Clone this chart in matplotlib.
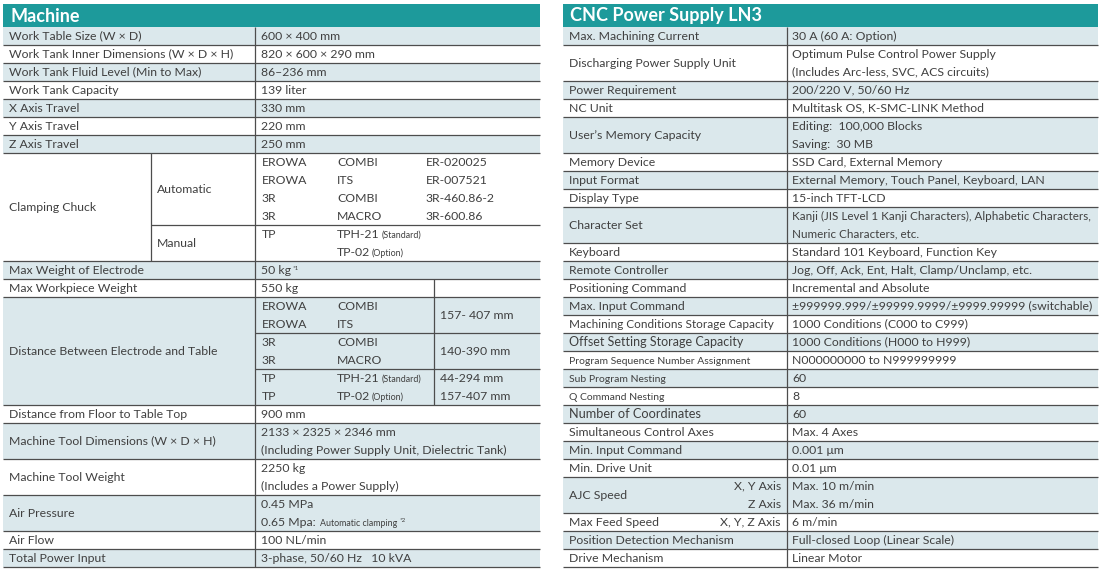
import matplotlib
matplotlib.use("Agg")
import matplotlib.pyplot as plt
from matplotlib.patches import Rectangle

# ---------------- data ----------------
machine_title = "Machine"
machine_labels = [
    "Work Table Size (W × D)",
    "Work Tank Inner Dimensions (W × D × H)",
    "Work Tank Fluid Level (Min to Max)",
    "Work Tank Capacity",
    "X Axis Travel",
    "Y Axis Travel",
    "Z Axis Travel",
    "Clamping Chuck",
    "Max Weight of Electrode",
    "Max Workpiece Weight",
    "Distance Between Electrode and Table",
    "Distance from Floor to Table Top",
    "Machine Tool Dimensions (W × D × H)",
    "Machine Tool Weight",
    "Air Pressure",
    "Air Flow",
    "Total Power Input",
]
machine_values = [
    "600 × 400 mm",
    "820 × 600 × 290 mm",
    "86–236 mm",
    "139 liter",
    "330 mm",
    "220 mm",
    "250 mm",
    None,
    "50 kg",
    "550 kg",
    None,
    "900 mm",
    "2133 × 2325 × 2346 mm\n(Including Power Supply Unit, Dielectric Tank)",
    "2250 kg\n(Includes a Power Supply)",
    "0.45 MPa\n0.65 Mpa: |Automatic clamping",
    "100 NL/min",
    "3-phase, 50/60 Hz   10 kVA",
]
machine_footnotes = {"Max Weight of Electrode": "*1", "Air Pressure": "*2"}

chuck_types = ["Automatic", "Manual"]
chuck_auto_maker = ["EROWA", "EROWA", "3R", "3R"]
chuck_auto_model = ["COMBI", "ITS", "COMBI", "MACRO"]
chuck_auto_part = ["ER-020025", "ER-007521", "3R-460.86-2", "3R-600.86"]
chuck_manual_maker = ["TP", ""]
chuck_manual_model = ["TPH-21", "TP-02"]
chuck_manual_note = ["(Standard)", "(Option)"]

dist_maker = ["EROWA", "EROWA", "3R", "3R", "TP", "TP"]
dist_model = ["COMBI", "ITS", "COMBI", "MACRO", "TPH-21", "TP-02"]
dist_note = ["", "", "", "", "(Standard)", "(Option)"]
dist_group = [0, 0, 1, 1, 2, 3]
dist_range = ["157- 407 mm", "140-390 mm", "44-294 mm", "157-407 mm"]

cnc_title = "CNC Power Supply LN3"
cnc_labels = [
    "Max. Machining Current",
    "Discharging Power Supply Unit",
    "Power Requirement",
    "NC Unit",
    "User’s Memory Capacity",
    "Memory Device",
    "Input Format",
    "Display Type",
    "Character Set",
    "Keyboard",
    "Remote Controller",
    "Positioning Command",
    "Max. Input Command",
    "Machining Conditions Storage Capacity",
    "Offset Setting Storage Capacity",
    "Program Sequence Number Assignment",
    "Sub Program Nesting",
    "Q Command Nesting",
    "Number of Coordinates",
    "Simultaneous Control Axes",
    "Min. Input Command",
    "Min. Drive Unit",
    "AJC Speed",
    "Max Feed Speed",
    "Position Detection Mechanism",
    "Drive Mechanism",
]
cnc_values = [
    "30 A (60 A: Option)",
    "Optimum Pulse Control Power Supply\n(Includes Arc-less, SVC, ACS circuits)",
    "200/220 V, 50/60 Hz",
    "Multitask OS, K-SMC-LINK Method",
    "Editing:  100,000 Blocks\nSaving:  30 MB",
    "SSD Card, External Memory",
    "External Memory, Touch Panel, Keyboard, LAN",
    "15-inch TFT-LCD",
    "Kanji (JIS Level 1 Kanji Characters), Alphabetic Characters,\nNumeric Characters, etc.",
    "Standard 101 Keyboard, Function Key",
    "Jog, Off, Ack, Ent, Halt, Clamp/Unclamp, etc.",
    "Incremental and Absolute",
    "±999999.999/±99999.9999/±9999.99999 (switchable)",
    "1000 Conditions (C000 to C999)",
    "1000 Conditions (H000 to H999)",
    "N000000000 to N999999999",
    "60",
    "8",
    "60",
    "Max. 4 Axes",
    "0.001 μm",
    "0.01 μm",
    "Max. 10 m/min\nMax. 36 m/min",
    "6 m/min",
    "Full-closed Loop (Linear Scale)",
    "Linear Motor",
]
cnc_axis_notes = {"AJC Speed": ["X, Y Axis", "Z Axis"], "Max Feed Speed": ["X, Y, Z Axis"]}

# ---------------- style ----------------
TEAL = "#1d9a9b"
SHADE = "#dbe8ec"
TXT = "#404040"
LINE = "#4d4d4d"
FS = 8.8
SMALL = 6.4
UNIT = 18.0
TOP = 27.0
plt.rcParams["font.family"] = ["Lato", "DejaVu Sans"]

label_sizes = {
    "Machining Conditions Storage Capacity": 8.5,
    "Program Sequence Number Assignment": 7.5,
    "Sub Program Nesting": 7.5,
    "Q Command Nesting": 7.5,
    "Number of Coordinates": 9.2,
    "Offset Setting Storage Capacity": 9.0,
}
value_sizes = {
    "Character Set": 8.4,
}

fig = plt.figure(figsize=(11, 5.7), dpi=100)
ax = fig.add_axes([0, 0, 1, 1])
ax.set_xlim(0, 1100)
ax.set_ylim(570, 0)
ax.axis("off")
renderer = fig.canvas.get_renderer()

BASE_OFF = 0.36 * FS * 100 / 72 * 0.72 + 0.6


def txt(x, yc, s, size=FS, ha="left", color=TXT, weight="normal"):
    return ax.text(x, yc + BASE_OFF, s, fontsize=size, ha=ha,
                   va="baseline", color=color, fontweight=weight)


def runs(x, yc, parts):
    for s, size, rise in parts:
        t = ax.text(x, yc + BASE_OFF - rise, s, fontsize=size,
                    ha="left", va="baseline", color=TXT)
        x += t.get_window_extent(renderer).width + 1.5
    return x


def hline(x0, x1, y, lw=0.9):
    ax.plot([x0, x1], [y, y], color=LINE, lw=lw, solid_capstyle="butt")


def vline(x, y0, y1, lw=0.9):
    ax.plot([x, x], [y0, y1], color=LINE, lw=lw, solid_capstyle="butt")


def header(x0, x1, title):
    ax.add_patch(Rectangle((x0, 4), x1 - x0, TOP - 4, color=TEAL, lw=0))
    ax.text(x0 + 7, 16, title, fontsize=13, fontweight="bold", color="white",
            ha="left", va="center")


# ---------------- left table ----------------
LX0, LX1, LDIV = 3, 540, 255
header(LX0, LX1, machine_title)
y = TOP
for i, (lab, val) in enumerate(zip(machine_labels, machine_values)):
    if val is None:
        n = 6
    else:
        n = len(val.split("\n"))
    h = n * UNIT
    if i % 2 == 0:
        ax.add_patch(Rectangle((LX0, y), LX1 - LX0, h, color=SHADE, lw=0))
    txt(LX0 + 6, y + h / 2, lab)
    if lab == "Clamping Chuck":
        vline(151, y, y + h)
        txt(157, y + 2 * UNIT, chuck_types[0])
        for k in range(4):
            yc = y + UNIT * (k + 0.5)
            txt(262, yc, chuck_auto_maker[k])
            txt(337, yc, chuck_auto_model[k])
            txt(426, yc, chuck_auto_part[k])
        hline(151, LX1, y + 4 * UNIT)
        txt(157, y + 5 * UNIT, chuck_types[1])
        for k in range(2):
            yc = y + UNIT * (4 + k + 0.5)
            txt(262, yc, chuck_manual_maker[k])
            runs(337, yc, [(chuck_manual_model[k], FS, 0), (chuck_manual_note[k], SMALL, 0)])
    elif lab == "Distance Between Electrode and Table":
        vline(434, y - UNIT, y + h)
        for k in range(6):
            yc = y + UNIT * (k + 0.5)
            txt(262, yc, dist_maker[k])
            parts = [(dist_model[k], FS, 0)]
            if dist_note[k]:
                parts.append((dist_note[k], SMALL, 0))
            runs(337, yc, parts)
            if k > 0 and dist_maker[k] != dist_maker[k - 1]:
                hline(LDIV, LX1, y + UNIT * k)
        for g, s in enumerate(dist_range):
            rows = [k for k in range(6) if dist_group[k] == g]
            yc = y + UNIT * (sum(rows) / len(rows) + 0.5)
            txt(440, yc, s)
    else:
        for k, line in enumerate(val.split("\n")):
            yc = y + UNIT * (k + 0.5)
            if "|" in line:
                a, b = line.split("|")
                parts = [(a, FS, 0), (b, SMALL, 0)]
            else:
                parts = [(line, FS, 0)]
            if lab in machine_footnotes and k == n - 1:
                parts.append((machine_footnotes[lab], 4.5, 4))
            runs(261, yc, parts)
    y += h
    hline(LX0, LX1, y)
vline(LDIV, TOP, y)

# ---------------- right table ----------------
RX0, RX1, RDIV = 563, 1098, 787
header(RX0, RX1, cnc_title)
y = TOP
for i, (lab, val) in enumerate(zip(cnc_labels, cnc_values)):
    lines = val.split("\n")
    n = len(lines)
    h = n * UNIT
    if i % 2 == 0:
        ax.add_patch(Rectangle((RX0, y), RX1 - RX0, h, color=SHADE, lw=0))
    txt(RX0 + 6, y + h / 2, lab, size=label_sizes.get(lab, FS))
    if lab in cnc_axis_notes:
        for k, note in enumerate(cnc_axis_notes[lab]):
            txt(RDIV - 6, y + UNIT * (k + 0.5), note, ha="right")
    for k, line in enumerate(lines):
        txt(RDIV + 5, y + UNIT * (k + 0.5), line, size=value_sizes.get(lab, FS))
    y += h
    hline(RX0, RX1, y)
vline(RDIV, TOP, y)

fig.savefig("out.png", dpi=100, facecolor="white")
